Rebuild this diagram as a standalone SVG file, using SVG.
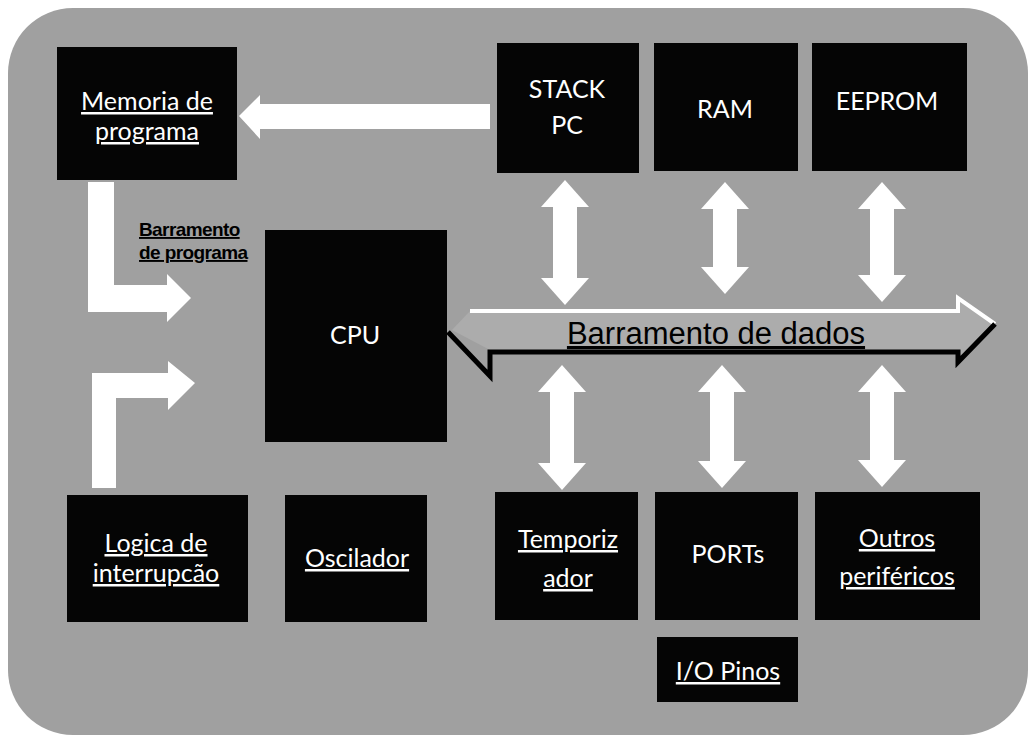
<svg xmlns="http://www.w3.org/2000/svg" width="1034" height="739" viewBox="0 0 1034 739">
  <defs>
    <style>
      .bg { fill: #a0a0a0; }
      .box { fill: #050505; }
      .lbl { font-family: "Lato", "Open Sans", "Liberation Sans", sans-serif; font-size: 25px; fill: #ffffff; text-anchor: middle; }
      .u { text-decoration: underline; }
      .arr { fill: #ffffff; }
      .small { font-family: "Liberation Sans", Arial, sans-serif; font-size: 19px; font-weight: bold; fill: #000000; text-decoration: underline; letter-spacing: -0.6px; }
      .bus { font-family: "Liberation Sans", Arial, sans-serif; font-size: 31px; fill: #000000; text-anchor: middle; text-decoration: underline; }
    </style>
  </defs>

  <rect x="0" y="0" width="1034" height="739" fill="#ffffff"/>
  <rect class="bg" x="8" y="8" width="1020" height="727" rx="65" ry="65"/>

  <g id="connectors">
    <!-- STACK PC -> Memoria de programa -->
    <polygon class="arr" points="239,116 260,95 260,104 490,104 490,129 260,129 260,139"/>
    <!-- Barramento de programa L arrow -->
    <polygon class="arr" points="88,182 114,182 114,285 167,285 167,274 191,298 167,322 167,312 88,312"/>
    <!-- Interrupt L arrow -->
    <polygon class="arr" points="92,488 92,373 168,373 168,361 195,383 168,410 168,398 116,398 116,488"/>
    <!-- Data bus arrow -->
    <polygon fill="#acacac" points="452,330 470,311 958,311 958,298 995,324 958,360 958,350 490,350"/>
    <polyline points="470,311 958,311 958,298 995,324" fill="none" stroke="#ffffff" stroke-width="4"/>
    <polyline points="448,332 490,376 490,352 958,352 958,362 995,324" fill="none" stroke="#000000" stroke-width="5"/>
    <!-- vertical double arrows -->
    <polygon class="arr" points="565,180 589,207 577,207 577,278 589,278 565,305 541,278 553,278 553,207 541,207"/>
    <polygon class="arr" points="725,182 749,209 737,209 737,267 749,267 725,294 701,267 713,267 713,209 701,209"/>
    <polygon class="arr" points="882,182 906,209 894,209 894,275 906,275 882,302 858,275 870,275 870,209 858,209"/>
    <polygon class="arr" points="562,365 586,392 574,392 574,463 586,463 562,490 538,463 550,463 550,392 538,392"/>
    <polygon class="arr" points="722,365 746,392 734,392 734,461 746,461 722,488 698,461 710,461 710,392 698,392"/>
    <polygon class="arr" points="882,365 906,392 894,392 894,460 906,460 882,487 858,460 870,460 870,392 858,392"/>
    <text class="small" x="139" y="236">Barramento</text>
    <text class="small" x="139" y="259">de programa</text>
    <text class="bus" x="716" y="344">Barramento de dados</text>
  </g>

  <g id="memoria">
    <rect class="box" x="57" y="47" width="180" height="133"/>
    <text class="lbl u" x="147" y="110">Memoria de</text>
    <text class="lbl u" x="147" y="140">programa</text>
  </g>
  <g id="stack">
    <rect class="box" x="497" y="43" width="142" height="130"/>
    <text class="lbl" x="567" y="98">STACK</text>
    <text class="lbl" x="567" y="134">PC</text>
  </g>
  <g id="ram">
    <rect class="box" x="654" y="43" width="144" height="128"/>
    <text class="lbl" x="725" y="118">RAM</text>
  </g>
  <g id="eeprom">
    <rect class="box" x="812" y="43" width="155" height="128"/>
    <text class="lbl" x="887" y="110">EEPROM</text>
  </g>
  <g id="cpu">
    <rect class="box" x="265" y="230" width="182" height="212"/>
    <text class="lbl" x="355" y="344">CPU</text>
  </g>
  <g id="logica">
    <rect class="box" x="67" y="495" width="181" height="127"/>
    <text class="lbl u" x="156" y="552">Logica de</text>
    <text class="lbl u" x="156" y="582">interrupcão</text>
  </g>
  <g id="oscilador">
    <rect class="box" x="285" y="495" width="142" height="127"/>
    <text class="lbl u" x="357" y="567">Oscilador</text>
  </g>
  <g id="temporizador">
    <rect class="box" x="495" y="492" width="143" height="128"/>
    <text class="lbl u" x="568" y="548">Temporiz</text>
    <text class="lbl u" x="568" y="587">ador</text>
  </g>
  <g id="ports">
    <rect class="box" x="655" y="492" width="143" height="128"/>
    <text class="lbl" x="728" y="563">PORTs</text>
  </g>
  <g id="outros">
    <rect class="box" x="815" y="492" width="165" height="128"/>
    <text class="lbl u" x="897" y="547">Outros</text>
    <text class="lbl u" x="897" y="585">periféricos</text>
  </g>
  <g id="iopinos">
    <rect class="box" x="657" y="637" width="141" height="65"/>
    <text class="lbl u" x="728" y="680">I/O Pinos</text>
  </g>
</svg>
